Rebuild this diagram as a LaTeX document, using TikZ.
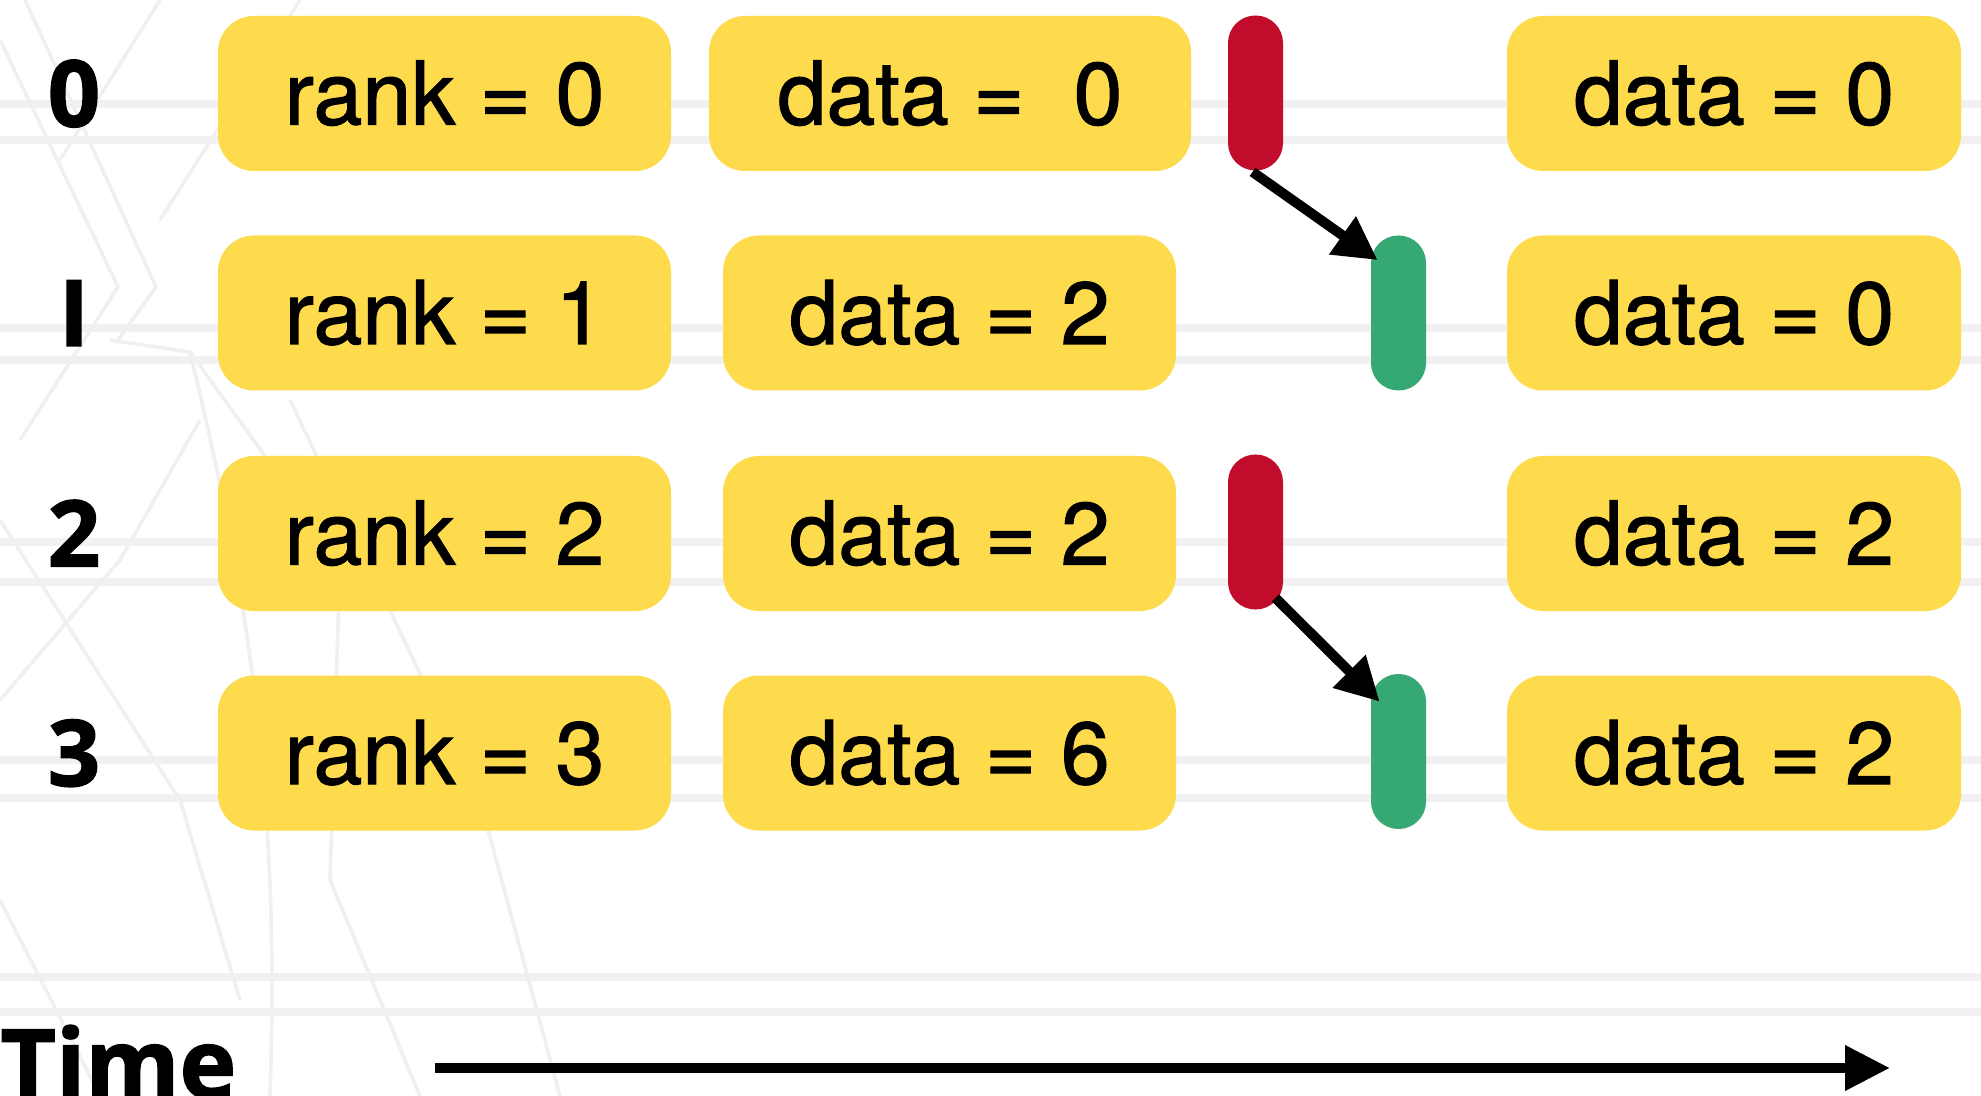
\documentclass[tikz,border=0pt]{standalone}
\usepackage{fontspec}
\setmainfont{TeX Gyre Heros}
\newfontfamily\boxfont[FakeBold=1.3]{TeX Gyre Heros}
\newfontfamily\labfont[FakeBold=1.5]{Open Sans Bold}
\usetikzlibrary{arrows.meta}
\definecolor{boxyellow}{RGB}{253,219,77}
\definecolor{pillred}{RGB}{194,12,43}
\definecolor{pillgreen}{RGB}{54,168,116}
\definecolor{faint}{RGB}{241,241,241}
\definecolor{faintdiag}{RGB}{240,240,240}
\tikzset{
  valbox/.style={rectangle, rounded corners=18pt, fill=boxyellow, inner sep=0pt,
    minimum height=77.5pt, text height=31pt, text depth=0pt,
    font=\boxfont\fontsize{44}{50}\selectfont},
  rowlab/.style={inner sep=0pt, text height=33pt, text depth=0pt,
    font=\labfont\fontsize{46}{50}\selectfont},
  pill/.style={rectangle, rounded corners=13.7pt, minimum width=27.5pt,
    minimum height=77.5pt, inner sep=0pt},
  sendarrow/.style={line width=5pt, -{Triangle[length=21.5pt,width=22pt]}},
  timearrow/.style={line width=5pt, -{Triangle[length=22.5pt,width=21.5pt]}},
  bgline/.style={draw=faint, line width=4pt},
  bgdiag/.style={draw=faintdiag, line width=1.8pt, line join=round}
}
\begin{document}
\begin{tikzpicture}[x=0.5pt,y=-0.5pt]
\useasboundingbox[fill=white] (0,0) rectangle (1981,1096);
% faint background watermark
\foreach \yy in {104,140,328,360,542,582,760,798,977,1012}
  \draw[bgline] (0,\yy) -- (1981,\yy);
\draw[bgdiag] (0,40) -- (118,287) -- (20,440);
\draw[bgdiag] (25,0) -- (156,287) -- (118,340);
\draw[bgdiag] (110,340) -- (190,352) .. controls (250,600) and (280,800) .. (270,1096);
\draw[bgdiag] (0,520) -- (180,800) -- (240,1000);
\draw[bgdiag] (0,700) -- (120,560) -- (200,420);
\draw[bgdiag] (300,0) -- (160,220);
\draw[bgdiag] (0,900) -- (100,1096);
\draw[bgdiag] (330,880) -- (420,1096);
\draw[bgdiag] (290,400) -- (480,800) -- (560,1096);
\draw[bgdiag] (160,0) -- (60,160);
\draw[bgdiag] (190,352) -- (340,560) -- (330,880);

% row labels
\node[rowlab] (l0) at (74,93.5) {0};
\node[rowlab] (l1) at (74,313) {I};
\node[rowlab] (l2) at (74,533.5) {2};
\node[rowlab] (l3) at (74,753) {3};

% rank boxes
\node[valbox, minimum width=226.5pt] (k0) at (444.5,93.5) {rank = 0};
\node[valbox, minimum width=226.5pt] (k1) at (444.5,313) {rank = 1};
\node[valbox, minimum width=226.5pt] (k2) at (444.5,533.5) {rank = 2};
\node[valbox, minimum width=226.5pt] (k3) at (444.5,753) {rank = 3};

% data boxes before
\node[valbox, minimum width=241pt] (d0) at (950,93.5) {data =\ \ 0};
\node[valbox, minimum width=226.5pt] (d1) at (949.5,313) {data = 2};
\node[valbox, minimum width=226.5pt] (d2) at (949.5,533.5) {data = 2};
\node[valbox, minimum width=226.5pt] (d3) at (949.5,753) {data = 6};

% pills
\node[pill, fill=pillred] (r0) at (1255.5,93) {};
\node[pill, fill=pillgreen] (g1) at (1398.5,313) {};
\node[pill, fill=pillred] (r2) at (1255.5,532) {};
\node[pill, fill=pillgreen] (g3) at (1398.5,751.5) {};

% data boxes after
\node[valbox, minimum width=227pt] (e0) at (1734,93.5) {data = 0};
\node[valbox, minimum width=227pt] (e1) at (1734,313) {data = 0};
\node[valbox, minimum width=227pt] (e2) at (1734,533.5) {data = 2};
\node[valbox, minimum width=227pt] (e3) at (1734,753) {data = 2};

% send arrows
\draw[sendarrow] ([shift={(-3,1)}]r0.south) -- ([shift={(7,25)}]g1.north west);
\draw[sendarrow] ([shift={(-8,-12)}]r2.south east) -- ([shift={(9,28)}]g3.north west);

% time axis
\node[anchor=base west, inner sep=0pt, font=\labfont\fontsize{48}{50}\selectfont] (time) at (0,1098) {Time};
\coordinate (ts) at (435,1068);
\coordinate (te) at (1890,1068);
\draw[timearrow] (ts) -- (te);
\end{tikzpicture}
\end{document}
